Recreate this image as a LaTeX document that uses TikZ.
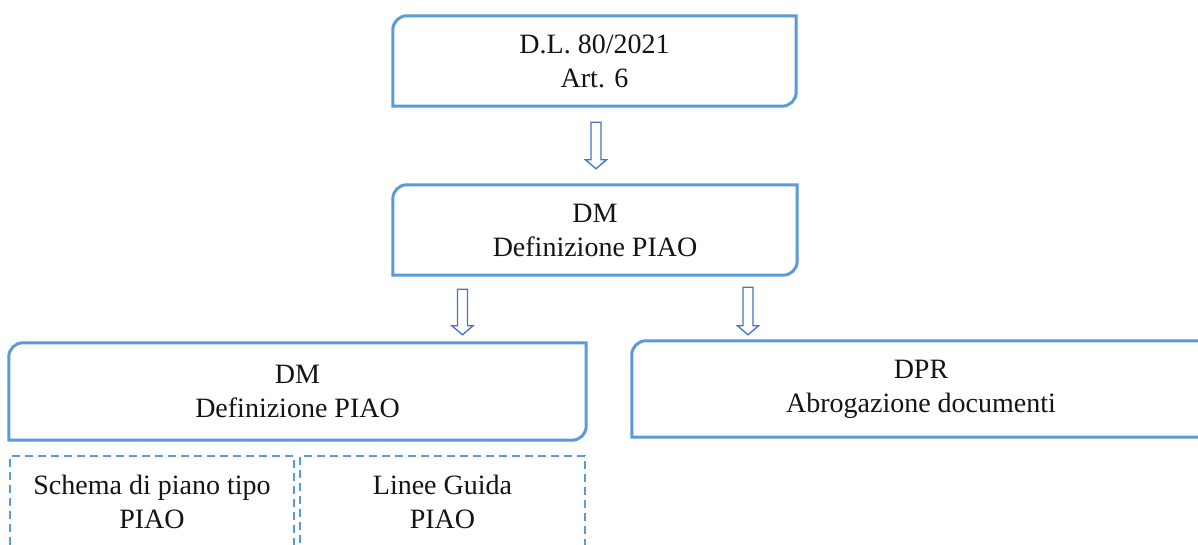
\documentclass[tikz,border=0pt]{standalone}
\usepackage{fontspec}
\setmainfont{Liberation Serif}
\usetikzlibrary{calc}

\definecolor{frameblue}{RGB}{91,155,213}
\definecolor{arrowblue}{RGB}{68,114,196}
\definecolor{inktext}{RGB}{20,20,20}

% outline with rounded top-left and bottom-right corners
\newcommand\cornerbox[1]{%
  \draw[boxline] let \p1=(#1.north west), \p2=(#1.south east) in
    (\x1,\y2) -- (\x1,\y1-14pt) arc[start angle=180,end angle=90,radius=14pt]
    -- (\x2,\y1) -- (\x2,\y2+14pt) arc[start angle=0,end angle=-90,radius=14pt]
    -- cycle;}

% hollow downward block arrow from a start point to a tip point
\newcommand\blockarrow[2]{%
  \draw[arrowline] let \p1=(#1), \p2=(#2) in
    (\x1-5pt,\y1) -- (\x1+5pt,\y1) -- (\x1+5pt,\y2+9pt) -- (\x1+10.5pt,\y2+9pt)
    -- (\x1,\y2) -- (\x1-10.5pt,\y2+9pt) -- (\x1-5pt,\y2+9pt) -- cycle;}

\tikzset{
  boxline/.style={draw=frameblue, line width=3pt},
  arrowline/.style={draw=arrowblue, line width=1.3pt, fill=white, line join=miter},
  textbox/.style={rectangle, draw=none, inner sep=0pt, align=center,
    text=inktext, font=\fontsize{28}{34}\selectfont},
  subbox/.style={textbox, draw=frameblue, line width=1.5pt,
    dash pattern=on 8pt off 5pt},
}

\begin{document}
\begin{tikzpicture}[x=1pt,y=1pt]
  \clip (0,0) rectangle (1198,545);
  \fill[white] (0,0) rectangle (1198,545);

  % main boxes
  \node[textbox, minimum width=403pt, minimum height=90pt] (law) at (594.5,484)
    {D.L. 80/2021\\Art. 6};
  \node[textbox, minimum width=404pt, minimum height=90pt] (dm) at (595,315)
    {DM\\Definizione PIAO};
  \node[textbox, minimum width=577pt, minimum height=97pt] (piao) at (297.5,153.5)
    {DM\\Definizione PIAO};
  \node[textbox, minimum width=578pt, minimum height=96pt] (dpr) at (921,156)
    {DPR\\Abrogazione documenti};

  \cornerbox{law}
  \cornerbox{dm}
  \cornerbox{piao}
  \cornerbox{dpr}

  % dashed sub-boxes under the PIAO decree
  \node[subbox, minimum width=284pt, minimum height=92pt] (schema) at (152,43)
    {Schema di piano tipo\\PIAO};
  \node[subbox, minimum width=285pt, minimum height=92pt] (linee) at (442.5,43)
    {Linee Guida\\PIAO};

  % arrow end points
  \coordinate (a1s) at ([xshift=1.5pt,yshift=-16pt]law.south);
  \coordinate (a1e) at ([xshift=1.5pt,yshift=16pt]dm.north);
  \coordinate (a2s) at ([xshift=-132.5pt,yshift=-14pt]dm.south);
  \coordinate (a2e) at ([yshift=8pt]a2s |- piao.north);
  \coordinate (a3s) at ([xshift=153pt,yshift=-12pt]dm.south);
  \coordinate (a3e) at ([yshift=6pt]a3s |- dpr.north);

  \blockarrow{a1s}{a1e}
  \blockarrow{a2s}{a2e}
  \blockarrow{a3s}{a3e}
\end{tikzpicture}
\end{document}
